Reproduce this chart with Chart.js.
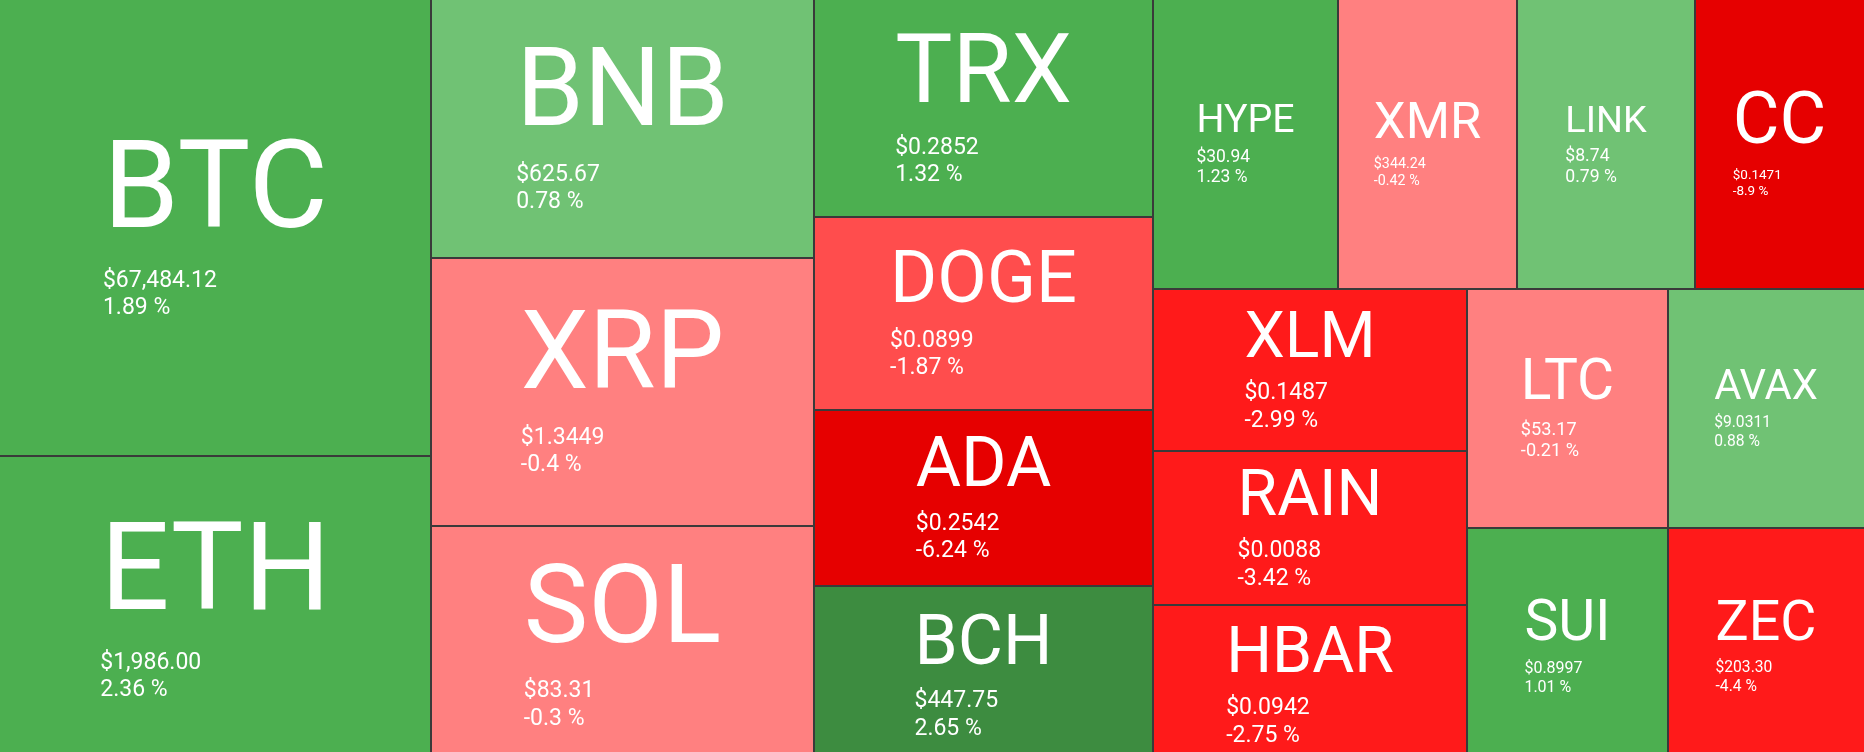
<!DOCTYPE html>
<html>
<head>
<meta charset="utf-8">
<script src="https://cdn.jsdelivr.net/npm/chart.js@4.4.1/dist/chart.umd.min.js"></script>
<style>
  html, body { margin: 0; padding: 0; background: #ffffff; overflow: hidden; }
  #wrap { position: relative; width: 1864px; height: 752px; }
</style>
</head>
<body>
<div id="wrap"><canvas id="chart"></canvas></div>
<script>
// ---- data ----
const symbols = ['BTC','ETH','BNB','XRP','SOL','TRX','DOGE','ADA','BCH','HYPE','XMR','LINK','CC','XLM','RAIN','HBAR','LTC','AVAX','SUI','ZEC'];
const tileSizes = [196.4, 133.4, 98.7, 102.4, 91.6, 73.6, 65.3, 59.5, 60.7, 53.8, 51.6, 51.5, 49.0, 50.6, 48.5, 50.2, 48.1, 46.7, 47.8, 46.4];
const prices = ['67,484.12','1,986.00','625.67','1.3449','83.31','0.2852','0.0899','0.2542','447.75','30.94','344.24','8.74','0.1471','0.1487','0.0088','0.0942','53.17','9.0311','0.8997','203.30'];
const changes = [1.89, 2.36, 0.78, -0.4, -0.3, 1.32, -1.87, -6.24, 2.65, 1.23, -0.42, 0.79, -8.9, -2.99, -3.42, -2.75, -0.21, 0.88, 1.01, -4.4];

const W = 1864, H = 752;
const LAYOUT_H = 765;          // the map runs slightly past the visible bottom edge
const FONT = 'Roboto, "Open Sans", sans-serif';

function tileColor(c) {
  if (c >= 2.5) return '#3d8c40';
  if (c >= 1) return '#4caf50';
  if (c >= 0) return '#70c274';
  if (c > -1) return '#ff8080';
  if (c > -2) return '#ff4d4d';
  if (c > -5) return '#ff1a1a';
  return '#e60000';
}

// squarified treemap (golden-ratio variant), order kept as given
const PHI = (1 + Math.sqrt(5)) / 2;
function squarify(vals, x0, y0, x1, y1) {
  const out = new Array(vals.length);
  const n = vals.length;
  let value = vals.reduce((a, b) => a + b, 0);
  let i0 = 0, i1 = 0;
  while (i0 < n) {
    const dx = x1 - x0, dy = y1 - y0;
    let sumValue = vals[i1++];
    let minValue = sumValue, maxValue = sumValue;
    const alpha = Math.max(dy / dx, dx / dy) / (value * PHI);
    let beta = sumValue * sumValue * alpha;
    let minRatio = Math.max(maxValue / beta, beta / minValue);
    for (; i1 < n; ++i1) {
      const nv = vals[i1];
      sumValue += nv;
      if (nv < minValue) minValue = nv;
      if (nv > maxValue) maxValue = nv;
      beta = sumValue * sumValue * alpha;
      const newRatio = Math.max(maxValue / beta, beta / minValue);
      if (newRatio > minRatio) { sumValue -= nv; break; }
      minRatio = newRatio;
    }
    if (dx < dy) {
      const ny = i1 >= n ? y1 : y0 + dy * sumValue / value;
      let x = x0; const k = dx / sumValue;
      for (let i = i0; i < i1; i++) { const xn = x + vals[i] * k; out[i] = {x0: x, y0: y0, x1: xn, y1: ny}; x = xn; }
      y0 = ny;
    } else {
      const nx = i1 >= n ? x1 : x0 + dx * sumValue / value;
      let y = y0; const k = dy / sumValue;
      for (let i = i0; i < i1; i++) { const yn = y + vals[i] * k; out[i] = {x0: x0, y0: y, x1: nx, y1: yn}; y = yn; }
      x0 = nx;
    }
    value -= sumValue; i0 = i1;
  }
  return out;
}

const treemapPlugin = {
  id: 'treemapTiles',
  afterDatasetsDraw(chart) {
    const ctx = chart.ctx;
    const xs = chart.scales.x, ys = chart.scales.y;
    const rects = squarify(tileSizes, xs.min, ys.min, xs.max, LAYOUT_H);
    const cw = chart.width, ch = chart.height;
    ctx.save();
    rects.forEach((r, i) => {
      const px0 = Math.round(xs.getPixelForValue(r.x0));
      const px1 = Math.round(xs.getPixelForValue(r.x1));
      const py0 = Math.round(ys.getPixelForValue(r.y0));
      const py1 = Math.round(ys.getPixelForValue(r.y1));
      const w = px1 - px0, h = py1 - py0;
      ctx.fillStyle = tileColor(changes[i]);
      ctx.fillRect(px0, py0, w, h);
      // separators only between tiles (outer edges pushed off-canvas)
      const sx0 = px0 <= 0 ? -3 : px0, sy0 = py0 <= 0 ? -3 : py0;
      const sx1 = px1 >= cw ? cw + 3 : px1, sy1 = py1 >= ch ? py1 + 3 : py1;
      ctx.lineWidth = 1;
      ctx.strokeStyle = '#3a3a3a';
      ctx.strokeRect(sx0 + 0.5, sy0 + 0.5, sx1 - sx0 - 1, sy1 - sy0 - 1);

      const sym = symbols[i];
      const priceTxt = '$' + prices[i];
      const pctTxt = changes[i] + ' %';
      const flat = h < 0.55 * w;
      const S = Math.min(0.85 * w / sym.length, flat ? 0.205 * w : 0.47 * h);
      ctx.font = '100px ' + FONT;
      const mw = Math.max(ctx.measureText(priceTxt).width, ctx.measureText(pctTxt).width) / 100;
      const s = Math.min(23, 0.29 * w / mw);
      ctx.font = S + 'px ' + FONT;
      const symW = ctx.measureText(sym).width;
      const cx = (px0 + px1) / 2, cy = (py0 + py1) / 2;
      const left = cx - symW / 2;
      const total = 0.711 * S + 0.3 * S + s + 1.19 * s;
      const capTop = cy - 1 - total / 2;
      const b1 = capTop + 0.711 * S;
      const b2 = b1 + 0.3 * S + s;
      const b3 = b2 + 1.19 * s;
      ctx.fillStyle = '#ffffff';
      ctx.textAlign = 'left';
      ctx.textBaseline = 'alphabetic';
      ctx.fillText(sym, left, b1);
      ctx.font = s + 'px ' + FONT;
      ctx.fillText(priceTxt, left, b2);
      ctx.fillText(pctTxt, left, b3);
    });
    ctx.restore();
  }
};

new Chart(document.getElementById('chart'), {
  type: 'scatter',
  data: { datasets: [{ label: 'tiles', data: [], pointRadius: 0 }] },
  options: {
    responsive: true,
    maintainAspectRatio: false,
    animation: false,
    events: [],
    layout: { padding: 0 },
    plugins: { legend: { display: false }, tooltip: { enabled: false } },
    scales: {
      x: { type: 'linear', display: false, min: 0, max: W },
      y: { type: 'linear', display: false, min: 0, max: H, reverse: true }
    }
  },
  plugins: [treemapPlugin]
});
</script>
</body>
</html>
